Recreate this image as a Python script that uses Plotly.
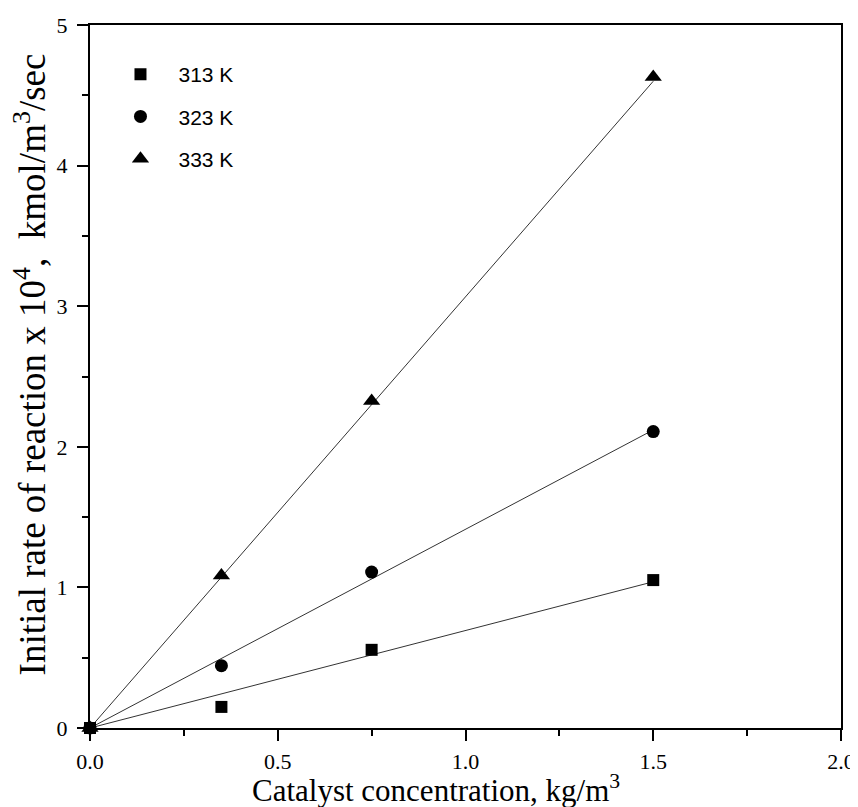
import plotly.graph_objects as go

conc = [0.0, 0.35, 0.75, 1.5]
rate_313 = [0.0, 0.15, 0.556, 1.052]
rate_323 = [0.0, 0.443, 1.109, 2.108]
rate_333 = [0.0, 1.085, 2.326, 4.63]

fit_x = [0.0, 1.5]
fit_313 = [0.0, 1.04]
fit_323 = [0.0, 2.12]
fit_333 = [0.0, 4.60]

labels = ["313 K", "323 K", "333 K"]

# page body has an 8px margin; lay out in window pixels and compensate
OFF = 8
WIN_W, WIN_H = 858, 807
W, H = WIN_W - OFF, WIN_H - OFF
# plot area in window pixels
PX0, PX1, PY0, PY1 = 89.5, 841.5, 25.0, 728.3
L, R, T, B = PX0 - OFF, WIN_W - PX1, PY0 - OFF, WIN_H - PY1
pw = PX1 - PX0
ph = PY1 - PY0


def xp(px):
    return (px - PX0) / pw


def yp(py):
    return (PY1 - py) / ph


fig = go.Figure()
for fy in [fit_313, fit_323, fit_333]:
    fig.add_trace(go.Scatter(x=fit_x, y=fy, mode="lines",
                             line=dict(color="#333333", width=1),
                             showlegend=False, hoverinfo="skip"))

series = [
    (rate_333, labels[2], "triangle-up", 15, 3),
    (rate_323, labels[1], "circle", 13, 2),
    (rate_313, labels[0], "square", 12, 1),
]
for ys, name, sym, sz, rank in series:
    fig.add_trace(go.Scatter(x=conc, y=ys, mode="markers", name=name,
                             legendrank=rank, legendgroup=name,
                             marker=dict(symbol=sym, size=sz, color="black",
                                         line=dict(width=0)),
                             cliponaxis=False))

axis_common = dict(showline=True, linewidth=2, linecolor="black", mirror=True,
                   ticks="outside", ticklen=11, tickwidth=2, tickcolor="black",
                   showgrid=False, zeroline=False, automargin=False,
                   tickfont=dict(family="Liberation Serif", size=22, color="black"))

fig.update_xaxes(range=[0, 2.0], dtick=0.5, tickformat=".1f", ticklabelstandoff=2,
                 minor=dict(dtick=0.25, ticks="outside", ticklen=6, tickwidth=2,
                            tickcolor="black", showgrid=False),
                 **axis_common)
fig.update_yaxes(range=[0, 5], dtick=1, ticklabelstandoff=5,
                 minor=dict(dtick=0.5, ticks="outside", ticklen=6, tickwidth=2,
                            tickcolor="black", showgrid=False),
                 **axis_common)

fig.add_annotation(text="Catalyst concentration, kg/m<sup>3</sup>",
                   xref="paper", yref="paper",
                   x=xp(436), y=yp(810),
                   xanchor="center", yanchor="bottom", showarrow=False,
                   font=dict(family="Liberation Serif", size=31, color="black"))
fig.add_annotation(text="Initial rate of reaction x 10<sup>4</sup>,  kmol/m<sup>3</sup>/sec",
                   xref="paper", yref="paper",
                   x=xp(30), y=yp(365), textangle=-90,
                   xanchor="center", yanchor="middle", showarrow=False,
                   font=dict(family="Liberation Serif", size=37, color="black"))

fig.update_layout(
    width=W, height=H,
    margin=dict(l=L, r=R, t=T, b=B, autoexpand=False),
    plot_bgcolor="white", paper_bgcolor="white",
    legend=dict(x=xp(102), y=yp(54), xanchor="left", yanchor="top",
                itemwidth=66, tracegroupgap=12, traceorder="grouped",
                bgcolor="rgba(0,0,0,0)",
                font=dict(family="Liberation Sans", size=21, color="black")),
)

fig.write_html("out.html")
